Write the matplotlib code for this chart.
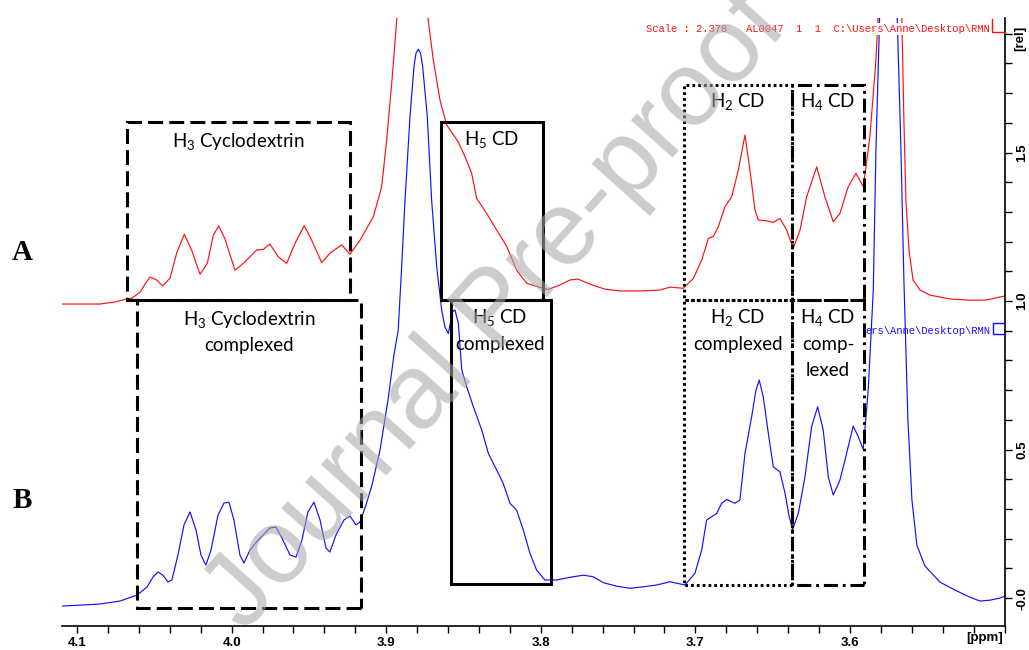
import matplotlib
matplotlib.use("Agg")
import matplotlib.pyplot as plt
from matplotlib.ticker import FixedLocator, FixedFormatter, MultipleLocator
from matplotlib.patches import Rectangle
from matplotlib.lines import Line2D

# ---------------- data ----------------
red_ppm = [4.1097, 4.0851, 4.0754, 4.0677, 4.0644, 4.0592, 4.0560, 4.0528, 4.0484, 4.0446,
           4.0398, 4.0355, 4.0306, 4.0258, 4.0204, 4.0157, 4.0118, 4.0083, 4.0043, 3.9978,
           3.9913, 3.9838, 3.9795, 3.9752, 3.9698, 3.9644, 3.9590, 3.9530, 3.9482, 3.9417,
           3.9364, 3.9288, 3.9234, 3.9169, 3.9083, 3.9029, 3.8997, 3.8964, 3.8932, 3.8891,
           3.8840, 3.8788, 3.8728, 3.8695, 3.8652, 3.8609, 3.8534, 3.8490, 3.8447, 3.8415,
           3.8350, 3.8285, 3.8221, 3.8156, 3.8091, 3.8005, 3.7952, 3.7876, 3.7811, 3.7759,
           3.7682, 3.7585, 3.7488, 3.7358, 3.7229, 3.7164, 3.7078, 3.7013, 3.6959, 3.6916,
           3.6884, 3.6852, 3.6808, 3.6765, 3.6722, 3.6679, 3.6647, 3.6614, 3.6593, 3.6539,
           3.6496, 3.6453, 3.6409, 3.6367, 3.6323, 3.6280, 3.6215, 3.6162, 3.6108, 3.6065,
           3.6011, 3.5961, 3.5914, 3.5871, 3.5832, 3.5819, 3.5780, 3.5741, 3.5702, 3.5664,
           3.5651, 3.5638, 3.5618, 3.5592, 3.5547, 3.5482, 3.5353, 3.5224, 3.5127, 3.5062,
           3.4997]
red_int = [0.990, 0.990, 0.997, 1.007, 1.010, 1.030, 1.057, 1.081, 1.071, 1.051,
           1.077, 1.162, 1.225, 1.171, 1.090, 1.127, 1.222, 1.253, 1.209, 1.104,
           1.132, 1.172, 1.174, 1.192, 1.149, 1.127, 1.194, 1.254, 1.205, 1.129,
           1.161, 1.189, 1.158, 1.205, 1.284, 1.385, 1.542, 1.733, 1.946, 2.215,
           2.417, 2.215, 1.946, 1.811, 1.677, 1.593, 1.536, 1.486, 1.430, 1.346,
           1.295, 1.239, 1.185, 1.104, 1.060, 1.046, 1.039, 1.054, 1.071, 1.074,
           1.057, 1.040, 1.034, 1.034, 1.037, 1.047, 1.043, 1.076, 1.138, 1.211,
           1.217, 1.250, 1.318, 1.351, 1.441, 1.559, 1.441, 1.306, 1.273, 1.270,
           1.265, 1.278, 1.239, 1.177, 1.239, 1.351, 1.452, 1.351, 1.267, 1.295,
           1.385, 1.430, 1.385, 1.553, 1.811, 1.946, 2.520, 2.855, 2.520, 1.946,
           1.609, 1.340, 1.172, 1.071, 1.037, 1.020, 1.007, 1.003, 1.003, 1.010,
           1.017]

blue_ppm = [4.1097, 4.0851, 4.0722, 4.0612, 4.0547, 4.0508, 4.0476, 4.0444, 4.0411, 4.0386,
            4.0347, 4.0308, 4.0269, 4.0230, 4.0198, 4.0166, 4.0133, 4.0088, 4.0049, 4.0017,
            3.9985, 3.9946, 3.9920, 3.9881, 3.9829, 3.9778, 3.9752, 3.9713, 3.9674, 3.9622,
            3.9583, 3.9545, 3.9506, 3.9467, 3.9428, 3.9389, 3.9364, 3.9325, 3.9273, 3.9234,
            3.9195, 3.9169, 3.9131, 3.9092, 3.9040, 3.8988, 3.8950, 3.8922, 3.8900, 3.8878,
            3.8846, 3.8820, 3.8807, 3.8792, 3.8778, 3.8764, 3.8734, 3.8706, 3.8673, 3.8641,
            3.8620, 3.8598, 3.8570, 3.8555, 3.8533, 3.8511, 3.8479, 3.8436, 3.8382, 3.8339,
            3.8285, 3.8243, 3.8199, 3.8156, 3.8113, 3.8070, 3.8027, 3.7973, 3.7897, 3.7811,
            3.7725, 3.7661, 3.7596, 3.7509, 3.7423, 3.7337, 3.7250, 3.7164, 3.7067, 3.7003,
            3.6959, 3.6927, 3.6895, 3.6862, 3.6830, 3.6797, 3.6744, 3.6712, 3.6679, 3.6636,
            3.6608, 3.6587, 3.6561, 3.6528, 3.6496, 3.6453, 3.6420, 3.6393, 3.6371, 3.6334,
            3.6291, 3.6248, 3.6209, 3.6173, 3.6140, 3.6108, 3.6065, 3.6032, 3.5979, 3.5946,
            3.5914, 3.5882, 3.5849, 3.5832, 3.5812, 3.5786, 3.5754, 3.5722, 3.5690, 3.5670,
            3.5651, 3.5625, 3.5599, 3.5567, 3.5515, 3.5418, 3.5321, 3.5224, 3.5159, 3.5094,
            3.5030, 3.4997]
blue_int = [-0.027, -0.020, -0.010, 0.010, 0.037, 0.071, 0.088, 0.077, 0.054, 0.061,
            0.145, 0.246, 0.290, 0.229, 0.145, 0.111, 0.162, 0.279, 0.320, 0.323,
            0.263, 0.145, 0.118, 0.162, 0.195, 0.222, 0.236, 0.239, 0.202, 0.145,
            0.138, 0.195, 0.290, 0.323, 0.263, 0.168, 0.155, 0.212, 0.263, 0.276,
            0.246, 0.256, 0.313, 0.380, 0.498, 0.667, 0.818, 0.902, 1.115, 1.340,
            1.621, 1.790, 1.835, 1.848, 1.835, 1.790, 1.621, 1.340, 1.115, 0.970,
            0.913, 0.891, 0.964, 0.970, 0.925, 0.768, 0.711, 0.644, 0.566, 0.487,
            0.431, 0.386, 0.319, 0.296, 0.229, 0.151, 0.094, 0.061, 0.061, 0.070,
            0.077, 0.072, 0.052, 0.040, 0.033, 0.038, 0.044, 0.055, 0.044, 0.083,
            0.162, 0.263, 0.274, 0.285, 0.319, 0.332, 0.319, 0.330, 0.487, 0.610,
            0.700, 0.734, 0.678, 0.555, 0.442, 0.425, 0.353, 0.274, 0.231, 0.285,
            0.408, 0.577, 0.644, 0.566, 0.408, 0.347, 0.397, 0.465, 0.579, 0.543,
            0.501, 0.700, 1.037, 1.508, 1.879, 2.418, 2.687, 2.418, 1.879, 1.508,
            1.071, 0.599, 0.330, 0.178, 0.108, 0.054, 0.027, 0.003, -0.010, -0.007,
            0.000, 0.007]

x_ticks = [4.1, 4.0, 3.9, 3.8, 3.7, 3.6]
x_tick_labels = ["4.1", "4.0", "3.9", "3.8", "3.7", "3.6"]
y_ticks = [0.0, 0.5, 1.0, 1.5]
y_tick_labels = ["-0.0", "0.5", "1.0", "1.5"]

# highlighted regions
box_left = [4.0677, 4.0612, 3.8646, 3.8582, 3.7076, 3.6374, 3.7076, 3.6374]
box_right = [3.9234, 3.9163, 3.7986, 3.7934, 3.6374, 3.5909, 3.6374, 3.5909]
box_bottom = [1.003, -0.034, 1.003, 0.047, 1.003, 1.003, 0.044, 0.044]
box_top = [1.603, 1.003, 1.603, 1.003, 1.727, 1.727, 1.003, 1.003]
box_style = ["dashed", "dashed", "solid", "solid", "dotted", "dashdot", "dotted", "dashdot"]

# ---------------- figure ----------------
plt.rcParams['mathtext.fontset'] = 'custom'
plt.rcParams['mathtext.rm'] = 'Lato'
plt.rcParams['mathtext.it'] = 'Lato:italic'
plt.rcParams['mathtext.bf'] = 'Lato:bold'

W, H = 1029, 650
fig = plt.figure(figsize=(W / 100, H / 100), dpi=100)
fig.patch.set_facecolor('white')


def fx(px):
    return px / W


def fy(py):
    return 1 - py / H


ax = fig.add_axes([fx(62), fy(626), (1005 - 62) / W, (626 - 18) / H])
ax.set_xlim(4.1097, 3.4997)
ax.set_ylim(-0.094, 1.953)

ax.plot(red_ppm, red_int, color='#ff1010', lw=0.85)
ax.plot(blue_ppm, blue_int, color='#1010ff', lw=0.85)

for s in ['left', 'top']:
    ax.spines[s].set_visible(False)
for s in ['bottom', 'right']:
    ax.spines[s].set_linewidth(1.2)

ax.yaxis.tick_right()
ax.xaxis.set_major_locator(FixedLocator(x_ticks))
ax.xaxis.set_major_formatter(FixedFormatter(x_tick_labels))
ax.xaxis.set_minor_locator(MultipleLocator(0.02))
ax.yaxis.set_major_locator(FixedLocator(y_ticks))
ax.yaxis.set_major_formatter(FixedFormatter(y_tick_labels))
ax.yaxis.set_minor_locator(MultipleLocator(0.1))
ax.tick_params(axis='both', which='both', direction='out', length=5, width=1.0)
ax.tick_params(axis='x', labelsize=9.5, pad=3)
ax.tick_params(axis='y', labelsize=9.5, pad=3, labelrotation=90)
for lbl in ax.get_xticklabels() + ax.get_yticklabels():
    lbl.set_fontfamily('Liberation Sans')
    lbl.set_fontweight('bold')
for lbl in ax.get_yticklabels():
    lbl.set_va('center')

styles = {
    "dashed": (0, (4.9, 2.0)),
    "solid": "solid",
    "dotted": (0, (0.9, 1.0)),
    "dashdot": (0, (4.6, 1.6, 0.9, 1.6)),
}
for l, r, b, t, st in zip(box_left, box_right, box_bottom, box_top, box_style):
    ax.add_patch(Rectangle((r, b), l - r, t - b, fill=False, ec='black', lw=2.2,
                           ls=styles[st], clip_on=False, zorder=3))

# ---------------- labels ----------------
lab = dict(family='Lato', fontsize=13.5, color='black', ha='center', va='center')
fig.text(fx(238), fy(141), r"H$_3$ Cyclodextrin", **lab)
fig.text(fx(249), fy(319), r"H$_3$ Cyclodextrin", **lab)
fig.text(fx(249), fy(345), "complexed", **lab)
fig.text(fx(492), fy(140), r"H$_5$ CD", **lab)
fig.text(fx(500), fy(318), r"H$_5$ CD", **lab)
fig.text(fx(500), fy(344), "complexed", **lab)
fig.text(fx(738), fy(101), r"H$_2$ CD", **lab)
fig.text(fx(828), fy(101), r"H$_4$ CD", **lab)
fig.text(fx(738), fy(318), r"H$_2$ CD", **lab)
fig.text(fx(738), fy(344), "complexed", **lab)
fig.text(fx(828), fy(318), r"H$_4$ CD", **lab)
fig.text(fx(828), fy(344), "comp-", **lab)
fig.text(fx(828), fy(370), "lexed", **lab)

fig.text(fx(22), fy(252), "A", family='Liberation Serif', fontweight='bold',
         fontsize=21, ha='center', va='center')
fig.text(fx(22), fy(500), "B", family='Liberation Serif', fontweight='bold',
         fontsize=21, ha='center', va='center')

fig.text(fx(990), fy(29), r"Scale : 2.378   AL0047  1  1  C:\Users\Anne\Desktop\RMN",
         family='Liberation Mono', fontsize=7.6, color='#ff1010', ha='right', va='center',
         bbox=dict(facecolor='white', edgecolor='none', pad=0.5), zorder=5)
fig.text(fx(990), fy(331), r"ers\Anne\Desktop\RMN",
         family='Liberation Mono', fontsize=7.6, color='#1010ff', ha='right', va='center',
         zorder=5)
fig.add_artist(Line2D([fx(992), fx(992), fx(1005)], [fy(19), fy(32), fy(32)],
                      color='#ff1010', lw=1.0))
fig.add_artist(Line2D([fx(1005), fx(993), fx(993), fx(1005)],
                      [fy(323), fy(323), fy(334), fy(334)], color='#1010ff', lw=1.0))

fig.text(fx(985), fy(638), "[ppm]", family='Liberation Sans', fontweight='bold',
         fontsize=9.5, ha='center', va='center')
fig.text(fx(1020), fy(38), "[rel]", family='Liberation Sans', fontweight='bold',
         fontsize=9.5, ha='center', va='center', rotation=90)

# watermark
fig.text(fx(497), fy(312), "Journal Pre-proof", family='Liberation Sans', fontsize=76,
         rotation=48, color=(0.66, 0.66, 0.66), alpha=0.58, ha='center', va='center',
         zorder=20)

fig.savefig("out.png", dpi=100, facecolor='white')
